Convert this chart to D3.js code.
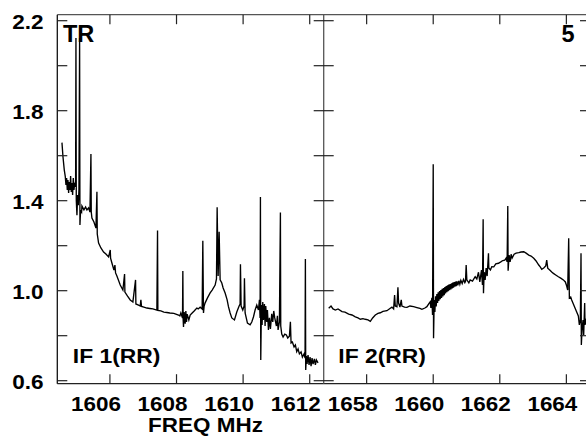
<!DOCTYPE html>
<html><head><meta charset="utf-8">
<script src="https://cdn.jsdelivr.net/npm/d3@7/dist/d3.min.js"></script>
<style>html,body{margin:0;padding:0;background:#fff;}svg{display:block;}</style>
</head><body>
<svg id="c" width="586" height="437"></svg>
<script>
const leftSpectrum = [[1604.56,1.658],[1604.59,1.596],[1604.63,1.536],[1604.66,1.507],
[1604.68,1.470],[1604.70,1.501],[1604.72,1.448],[1604.74,1.492],[1604.76,1.434],[1604.78,1.483],[1604.80,1.448],[1604.82,1.510],[1604.84,1.439],[1604.86,1.479],[1604.88,1.425],[1604.90,1.501],[1604.92,1.448],[1604.94,1.474],
[1604.97,1.466],[1604.98,2.123],[1604.99,1.402],[1605.01,1.335],[1605.03,1.425],[1605.05,1.380],[1605.07,1.448],[1605.09,2.123],[1605.10,1.292],[1605.12,1.359],[1605.15,1.350],[1605.16,1.376],[1605.22,1.359],[1605.27,1.372],[1605.31,1.359],[1605.36,1.368],[1605.40,1.350],[1605.43,1.607],[1605.44,1.350],[1605.46,1.323],[1605.52,1.305],[1605.58,1.279],[1605.61,1.440],[1605.62,1.252],[1605.66,1.212],[1605.73,1.190],[1605.81,1.172],[1605.88,1.163],[1605.96,1.150],[1606.01,1.181],[1606.02,1.145],[1606.06,1.123],[1606.12,1.092],[1606.15,1.114],[1606.17,1.079],[1606.21,1.065],[1606.31,1.025],[1606.39,1.003],[1606.44,1.074],[1606.45,0.994],[1606.53,0.976],[1606.61,0.959],[1606.69,0.950],[1606.77,1.048],[1606.78,0.941],[1606.86,0.936],[1606.91,0.932],[1606.93,0.959],[1606.95,0.930],[1607.02,0.927],[1607.11,0.923],[1607.20,0.921],[1607.29,0.919],[1607.41,0.914],[1607.43,1.267],[1607.44,0.912],[1607.53,0.910],[1607.62,0.905],[1607.71,0.903],[1607.80,0.901],[1607.92,0.899],[1607.98,0.896],[1608.06,0.892],[1608.10,0.888],[1608.13,0.901],[1608.18,0.879],[1608.19,1.088],[1608.20,0.870],[1608.21,0.839],[1608.23,0.905],[1608.26,0.853],[1608.28,0.910],[1608.30,0.861],[1608.32,0.896],[1608.37,0.870],[1608.41,0.892],[1608.47,0.901],[1608.53,0.910],[1608.61,0.923],[1608.65,0.919],[1608.71,0.927],[1608.77,0.919],[1608.79,1.222],[1608.81,0.901],[1608.83,0.932],[1608.86,0.946],[1608.93,0.968],[1609.01,0.990],[1609.07,1.003],[1609.16,1.025],[1609.20,1.052],[1609.22,1.371],[1609.25,1.065],[1609.28,1.262],[1609.31,1.048],[1609.36,1.034],[1609.40,1.012],[1609.46,0.990],[1609.52,0.959],[1609.56,0.929],[1609.61,0.901],[1609.66,0.879],[1609.74,0.870],[1609.81,0.905],[1609.88,0.932],[1609.91,0.941],[1609.92,1.117],[1609.94,0.932],[1609.99,0.914],[1610.03,0.932],[1610.04,1.055],[1610.06,0.901],[1610.13,0.856],[1610.21,0.848],[1610.26,0.861],[1610.31,0.883],[1610.36,0.914],[1610.41,0.936],[1610.46,0.914],[1610.49,0.959],[1610.51,0.879],[1610.52,1.416],[1610.53,0.692],[1610.55,0.936],[1610.57,0.848],[1610.59,0.950],[1610.61,0.870],[1610.64,0.941],[1610.66,0.843],[1610.68,0.932],[1610.71,0.861],[1610.73,0.914],[1610.76,0.826],[1610.79,0.879],[1610.82,0.830],[1610.86,0.897],[1610.89,0.861],[1610.92,0.910],[1610.95,0.879],[1611.00,0.843],[1611.03,0.888],[1611.05,0.826],[1611.09,0.861],[1611.12,1.348],[1611.13,0.843],[1611.16,0.807],[1611.20,0.794],[1611.25,0.807],[1611.30,0.803],[1611.34,0.790],[1611.39,0.798],[1611.42,0.862],[1611.44,0.768],[1611.48,0.772],[1611.53,0.750],[1611.57,0.759],[1611.61,0.729],[1611.65,0.741],[1611.69,0.719],[1611.74,0.728],[1611.78,0.705],[1611.83,0.719],[1611.86,0.700],[1611.87,1.141],[1611.88,0.648],[1611.90,0.710],[1611.92,0.674],[1611.95,0.714],[1611.98,0.670],[1612.01,0.705],[1612.04,0.665],[1612.07,0.700],[1612.10,0.674],[1612.14,0.697],[1612.17,0.670],[1612.20,0.692],[1612.25,0.679]];

const rightSpectrum = [[1656.86,0.922],[1656.93,0.932],[1656.99,0.919],[1657.06,0.914],[1657.14,0.919],[1657.26,0.907],[1657.35,0.905],[1657.46,0.896],[1657.56,0.892],[1657.66,0.884],[1657.74,0.879],[1657.81,0.873],[1657.89,0.876],[1657.96,0.873],[1658.04,0.870],[1658.11,0.864],[1658.18,0.879],[1658.26,0.892],[1658.34,0.899],[1658.41,0.902],[1658.49,0.908],[1658.61,0.911],[1658.71,0.922],[1658.76,0.927],[1658.81,0.919],[1658.84,0.981],[1658.86,0.932],[1658.91,0.929],[1658.94,1.015],[1658.96,0.945],[1659.00,0.927],[1659.04,0.959],[1659.06,0.932],[1659.14,0.927],[1659.21,0.926],[1659.30,0.932],[1659.41,0.929],[1659.51,0.925],[1659.60,0.921],[1659.66,0.917],[1659.75,0.923],[1659.81,0.929],[1659.87,0.943],[1659.91,0.951],[1659.93,0.923],[1659.96,0.968],[1659.98,0.892],[1660.00,1.562],[1660.01,0.789],
[1660.03,0.959],[1660.05,0.905],[1660.07,0.975],[1660.09,0.930],[1660.11,0.985],[1660.13,0.945],[1660.15,0.993],[1660.17,0.955],[1660.19,0.998],[1660.21,0.962],[1660.23,1.003],[1660.25,0.968],[1660.27,1.008],[1660.29,0.975],[1660.31,1.012],[1660.33,0.980],[1660.35,1.016],[1660.37,0.988],[1660.39,1.021],[1660.41,0.993],[1660.43,1.024],[1660.45,0.998],[1660.47,1.027],[1660.49,1.002],[1660.51,1.030],[1660.53,1.006],[1660.55,1.033],[1660.57,1.010],[1660.59,1.036],[1660.61,1.014],[1660.63,1.038],[1660.65,1.018],[1660.67,1.040],[1660.69,1.020],[1660.71,1.042],[1660.74,1.024],[1660.77,1.044],[1660.80,1.028],[1660.83,1.046],[1660.87,1.032],[1660.91,1.050],[1660.95,1.036],[1660.97,1.042],
[1660.99,1.114],[1661.01,1.048],[1661.07,1.035],[1661.11,1.048],[1661.18,1.043],[1661.26,1.062],[1661.31,1.052],[1661.36,1.082],[1661.40,1.039],[1661.45,1.092],[1661.48,1.026],[1661.50,1.317],[1661.51,0.989],[1661.53,1.083],[1661.56,1.048],[1661.59,1.101],[1661.62,1.065],[1661.66,1.166],[1661.67,1.101],[1661.72,1.092],[1661.76,1.107],[1661.82,1.106],[1661.88,1.119],[1661.96,1.122],[1662.03,1.128],[1662.09,1.134],[1662.15,1.136],[1662.19,1.145],[1662.22,1.128],[1662.24,1.376],[1662.25,1.089],[1662.28,1.158],[1662.31,1.128],[1662.34,1.162],[1662.37,1.145],[1662.43,1.162],[1662.49,1.167],[1662.57,1.169],[1662.64,1.172],[1662.72,1.173],[1662.79,1.167],[1662.87,1.158],[1662.94,1.154],[1663.02,1.144],[1663.09,1.132],[1663.17,1.114],[1663.22,1.105],[1663.26,1.095],[1663.32,1.101],[1663.38,1.110],[1663.41,1.136],[1663.44,1.100],[1663.50,1.092],[1663.56,1.083],[1663.61,1.077],[1663.68,1.070],[1663.76,1.062],[1663.83,1.056],[1663.91,1.048],[1663.97,1.039],[1664.01,1.021],[1664.04,1.003],[1664.07,1.233],[1664.09,0.968],[1664.13,0.972],[1664.16,0.959],[1664.21,0.941],[1664.26,0.923],[1664.31,0.905],[1664.36,0.888],[1664.39,0.848],[1664.42,0.870],[1664.44,1.166],[1664.45,0.759],[1664.47,0.825],[1664.50,0.870],[1664.52,0.803],[1664.55,0.945],[1664.56,0.848],[1664.61,0.879],[1664.67,0.914]];

const leftDomain = [1604.42, 1612.42];
const rightDomain = [1656.71, 1664.71];
const leftTicks = [1606, 1608, 1610, 1612];
const rightTicks = [1658, 1660, 1662, 1664];
const yDomain = [0.6, 2.2];
const yTicks = [0.6, 0.8, 1.0, 1.2, 1.4, 1.6, 1.8, 2.0, 2.2];
const yTickLabels = [0.6, 1.0, 1.4, 1.8, 2.2];
const panelLabels = ["IF 1(RR)", "IF 2(RR)"];
const cornerLeft = "TR";
const cornerRight = "5";
const xTitle = "FREQ MHz";

const svg = d3.select("#c");
const FONT = "'Liberation Sans', Arial, Helvetica, sans-serif";
const X0 = 57.3, XM = 323.7, X1 = 590;
const y = d3.scaleLinear().domain(yDomain).range([380.7, 20.7]);
const yTop = y(2.2) - 6, yBot = y(0.6) + 3;
const xL = d3.scaleLinear().domain(leftDomain).range([X0, XM]);
const xR = d3.scaleLinear().domain(rightDomain).range([XM, X1]);

function txt(x, yy, s, size, anchor, sx) {
  svg.append("text")
    .attr("transform", `translate(${x},${yy}) scale(${sx},1)`)
    .attr("text-anchor", anchor)
    .attr("font-family", FONT).attr("font-weight", "bold")
    .attr("font-size", size).attr("fill", "#000").text(s);
}

const defs = svg.append("defs");
[["cl", X0, XM], ["cr", XM, X1]].forEach(([id, a, b]) => {
  defs.append("clipPath").attr("id", id).append("rect")
    .attr("x", a).attr("y", yTop).attr("width", b - a).attr("height", yBot - yTop);
});

// data lines
const lineL = d3.line().x(d => xL(d[0])).y(d => y(d[1]));
const lineR = d3.line().x(d => xR(d[0])).y(d => y(d[1]));
svg.append("path").datum(leftSpectrum).attr("d", lineL).attr("clip-path", "url(#cl)")
  .attr("fill", "none").attr("stroke", "#000").attr("stroke-width", 1.35);
svg.append("path").datum(rightSpectrum).attr("d", lineR).attr("clip-path", "url(#cr)")
  .attr("fill", "none").attr("stroke", "#000").attr("stroke-width", 1.35);

// frame
const frame = svg.append("g").attr("fill", "none").attr("stroke", "#555").attr("stroke-width", 1.3);
frame.append("line").attr("x1", X0).attr("x2", X1).attr("y1", yTop).attr("y2", yTop);
frame.append("line").attr("x1", X0).attr("x2", X1).attr("y1", yBot).attr("y2", yBot).attr("stroke", "#222");
frame.append("line").attr("x1", X0).attr("x2", X0).attr("y1", yTop).attr("y2", yBot).attr("stroke", "#111");
frame.append("line").attr("x1", XM).attr("x2", XM).attr("y1", yTop).attr("y2", yBot);
frame.append("line").attr("x1", X1).attr("x2", X1).attr("y1", yTop).attr("y2", yBot);

// ticks
const tk = svg.append("g").attr("stroke", "#222").attr("stroke-width", 1.2);
yTicks.forEach(v => {
  const yy = y(v);
  tk.append("line").attr("x1", X0).attr("x2", X0 + 10).attr("y1", yy).attr("y2", yy);
  tk.append("line").attr("x1", XM - 10).attr("x2", XM + 10).attr("y1", yy).attr("y2", yy);
  tk.append("line").attr("x1", X1 - 10).attr("x2", X1).attr("y1", yy).attr("y2", yy);
});
[[xL, leftTicks], [xR, rightTicks]].forEach(([sc, ticks]) => {
  ticks.forEach(t => {
    const xx = sc(t);
    tk.append("line").attr("x1", xx).attr("x2", xx).attr("y1", yTop).attr("y2", yTop + 9.5);
    tk.append("line").attr("x1", xx).attr("x2", xx).attr("y1", yBot - 9.5).attr("y2", yBot);
    txt(xx - 14, 410.5, String(t), 21, "middle", 1.07);
  });
});
yTickLabels.forEach(v => txt(43.5, y(v) + 8, v.toFixed(1), 20.5, "end", 1.1));

txt(205.5, 432, xTitle, 21, "middle", 1.07);
txt(xL(1604.42) + 15.5, 362.5, panelLabels[0], 21, "start", 1.09);
txt(XM + 14.6, 362.5, panelLabels[1], 21, "start", 1.09);
txt(63, 42.3, cornerLeft, 23.5, "start", 1.0);
txt(574.5, 42.3, cornerRight, 23.5, "end", 1.0);
</script>
</body></html>
